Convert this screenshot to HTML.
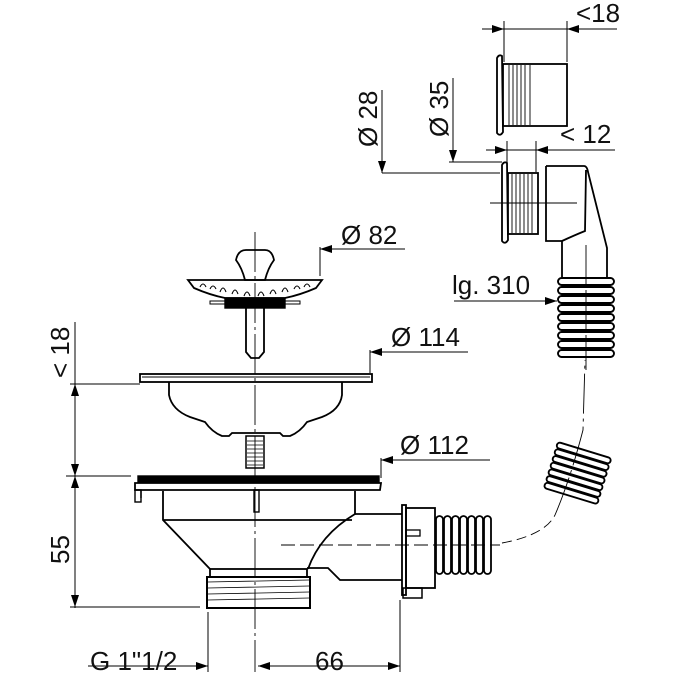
<!DOCTYPE html>
<html><head><meta charset="utf-8"><style>
html,body{margin:0;padding:0;background:#fff}
svg{display:block}
text{font-family:"Liberation Sans",sans-serif;font-size:26px;fill:#111}
</style></head><body>
<svg width="680" height="680" viewBox="0 0 680 680" xmlns="http://www.w3.org/2000/svg">
<defs>
<marker id="a" markerWidth="12" markerHeight="8" refX="12" refY="4" orient="auto" markerUnits="userSpaceOnUse"><path d="M0,0 L12,4 L0,8 Z" fill="#000"/></marker>
</defs>
<g stroke="#000" fill="none" stroke-width="1.4">
<line x1="255" y1="232" x2="255" y2="672" stroke-dasharray="40,4,3,4" stroke-width="0.9"/>
<path d="M236,260 Q238,250 246,250 L265,250 Q272,250 274,260 Q268,268 265,280 L245,280 Q242,268 236,260 Z" stroke-width="1.8"/>
<path d="M188,280 L322,280 L316,288 Q300,295 285,298 L225,298 Q210,295 194,288 Z" stroke-width="1.8"/>
<g stroke-width="1.1">
<path d="M200,287 q3,-6 6,0 M210,289 q3,-6 6,0 M220,292 q3,-8 6,0 M232,294 q3,-8 6,0 M244,296 q3,-8 6,0 M258,296 q3,-8 6,0 M270,294 q3,-8 6,0 M282,292 q3,-8 6,0 M294,289 q3,-6 6,0 M304,287 q3,-6 6,0"/>
</g>
<rect x="210" y="301" width="90" height="3" stroke-width="1"/>
<rect x="225" y="298" width="60" height="10" fill="#000"/>
<path d="M246,308 L246,352 L251,358 L259,358 L264,352 L264,308" stroke-width="1.8"/>
<rect x="140" y="374" width="232" height="8" stroke-width="1.8"/>
<line x1="142" y1="377" x2="370" y2="377" stroke-width="1"/>
<path d="M169,382 L169,395 Q172,410 190,417 L205,422 Q212,432 222,436 L229,436 L232,433 L280,433 L283,436 L290,436 Q300,432 307,422 L322,417 Q340,410 342,395 L342,382" stroke-width="1.8"/>
<rect x="246" y="436" width="18" height="32" stroke-width="1.5"/>
<path d="M247,441h16M247,445h16M247,449h16M247,453h16M247,457h16M247,461h16M247,465h16" stroke-width="0.8"/>
<rect x="138" y="476" width="241" height="6" fill="#000"/>
<path d="M135,483 L381,483 L380,490 L135,490 Z" stroke-width="1.8"/>
<rect x="135" y="490" width="6" height="12" stroke-width="1.4"/>
<line x1="141" y1="490" x2="141" y2="498"/>
<rect x="254" y="490" width="5" height="22" stroke-width="1.4"/>
<path d="M163,491 L163,520 L210,569 M163,520 L352,520 M355,491 L355,514 Q320,535 308,569" stroke-width="1.8"/>
<rect x="210" y="569" width="97" height="8" stroke-width="1.8"/>
<rect x="207" y="577" width="103" height="31" stroke-width="2"/>
<path d="M208,582 L309,580 M208,588 L309,586 M208,594 L309,592 M208,600 L309,598" stroke-width="0.8"/>
<path d="M355,514 L402,514 M307,568 L328,568 L340,580 L402,580" stroke-width="1.8"/>
<rect x="402" y="505" width="4" height="90" stroke-width="1.8"/>
<rect x="406" y="508" width="29" height="80" stroke-width="1.8"/>
<rect x="403" y="588" width="19" height="10" stroke-width="1.5"/>
<rect x="406" y="530" width="14" height="6" stroke-width="1.3"/>
<g stroke-width="1.8">
<rect x="436" y="516" width="7" height="58" rx="3.5"/>
<rect x="444" y="516" width="7" height="58" rx="3.5"/>
<rect x="452" y="516" width="7" height="58" rx="3.5"/>
<rect x="460" y="516" width="7" height="58" rx="3.5"/>
<rect x="468" y="516" width="7" height="58" rx="3.5"/>
<rect x="476" y="516" width="7" height="58" rx="3.5"/>
<rect x="484" y="516" width="7" height="58" rx="3.5"/>
</g>
<line x1="281" y1="545" x2="500" y2="545" stroke-dasharray="14,5" stroke-width="0.9"/>
<path d="M502,543 Q545,535 555,515" stroke-dasharray="10,5" stroke-width="0.9"/>
<path d="M555,515 Q570,480 583,430 L585,360" stroke-dasharray="40,5,3,5" stroke-width="0.9"/>
<g transform="translate(577,475) rotate(17)" stroke-width="1.9">
<rect x="-28" y="-26" width="56" height="6" rx="3"/>
<rect x="-28" y="-19" width="56" height="6" rx="3"/>
<rect x="-28" y="-12" width="56" height="6" rx="3"/>
<rect x="-28" y="-5" width="56" height="6" rx="3"/>
<rect x="-28" y="2" width="56" height="6" rx="3"/>
<rect x="-28" y="9" width="56" height="6" rx="3"/>
<rect x="-28" y="16" width="56" height="6" rx="3"/>
</g>
<path d="M497,58 Q499,54 502,56 L503,132 Q500,137 497,133 Z" stroke-width="1.8"/>
<rect x="503" y="64" width="64" height="62" stroke-width="1.8"/>
<path d="M509,65v60M513,65v60M517,65v60M521,65v60M525,65v60M530,65v60" stroke-width="0.9"/>
<path d="M502,165 Q504,161 507,163 L508,240 Q505,245 502,241 Z" stroke-width="1.8"/>
<rect x="508" y="173" width="30" height="61" stroke-width="1.8"/>
<path d="M512,174v59M516,174v59M520,174v59M524,174v59M528,174v59M532,174v59" stroke-width="0.9"/>
<line x1="490" y1="203" x2="577" y2="203" stroke-width="0.9"/>
<path d="M546,166 L584,166 Q587,166 588,172 L607,248 L607,277 M546,166 L546,241 L562,241 L562,277 M562,241 Q575,235 585,231 L586,170" stroke-width="1.8"/>
<line x1="586" y1="245" x2="586" y2="370" stroke-dasharray="40,5" stroke-width="0.9"/>
<g stroke-width="1.9">
<rect x="558" y="278" width="56" height="7" rx="3.5"/>
<rect x="558" y="287" width="56" height="7" rx="3.5"/>
<rect x="558" y="296" width="56" height="7" rx="3.5"/>
<rect x="558" y="305" width="56" height="7" rx="3.5"/>
<rect x="558" y="314" width="56" height="7" rx="3.5"/>
<rect x="558" y="323" width="56" height="7" rx="3.5"/>
<rect x="558" y="332" width="56" height="7" rx="3.5"/>
<rect x="558" y="341" width="56" height="7" rx="3.5"/>
<rect x="558" y="350" width="56" height="7" rx="3.5"/>
</g>
</g>
<g stroke="#000" stroke-width="1" fill="none">
<line x1="504" y1="21" x2="504" y2="62"/><line x1="567" y1="21" x2="567" y2="62"/>
<line x1="482" y1="29" x2="504" y2="29" marker-end="url(#a)"/>
<line x1="617" y1="29" x2="567" y2="29" marker-end="url(#a)"/>
<line x1="504" y1="29" x2="567" y2="29"/>
<line x1="507" y1="141" x2="507" y2="165"/><line x1="536" y1="141" x2="536" y2="172"/>
<line x1="486" y1="150" x2="507" y2="150" marker-end="url(#a)"/>
<line x1="615" y1="150" x2="536" y2="150" marker-end="url(#a)"/>
<line x1="507" y1="150" x2="536" y2="150"/>
<line x1="382" y1="90" x2="382" y2="173" marker-end="url(#a)"/>
<line x1="382" y1="173" x2="500" y2="173"/>
<line x1="453" y1="78" x2="453" y2="162" marker-end="url(#a)"/>
<line x1="449" y1="162" x2="502" y2="162"/>
<line x1="405" y1="249" x2="320" y2="249" marker-end="url(#a)"/>
<line x1="320" y1="247" x2="320" y2="276"/>
<line x1="454" y1="301" x2="557" y2="301" marker-end="url(#a)"/>
<line x1="468" y1="352" x2="370" y2="352" marker-end="url(#a)"/>
<line x1="370" y1="350" x2="370" y2="373"/>
<line x1="490" y1="460" x2="381" y2="460" marker-end="url(#a)"/>
<line x1="381" y1="458" x2="381" y2="478"/>
<line x1="75" y1="322" x2="75" y2="608"/>
<line x1="70" y1="384" x2="140" y2="384"/>
<line x1="66" y1="476" x2="131" y2="476"/>
<line x1="70" y1="607" x2="200" y2="607"/>
<line x1="75" y1="420" x2="75" y2="384" marker-end="url(#a)"/>
<line x1="75" y1="440" x2="75" y2="476" marker-end="url(#a)"/>
<line x1="75" y1="510" x2="75" y2="476" marker-end="url(#a)"/>
<line x1="75" y1="570" x2="75" y2="607" marker-end="url(#a)"/>
<line x1="208" y1="612" x2="208" y2="672"/>
<line x1="400" y1="600" x2="400" y2="672"/>
<line x1="88" y1="666" x2="208" y2="666" marker-end="url(#a)"/>
<line x1="300" y1="666" x2="258" y2="666" marker-end="url(#a)"/>
<line x1="360" y1="666" x2="400" y2="666" marker-end="url(#a)"/>
<line x1="300" y1="666" x2="360" y2="666"/>
</g>
<text x="576" y="22">&lt;18</text>
<text x="560" y="143">&lt; 12</text>
<text transform="translate(377,147) rotate(-90)">Ø 28</text>
<text transform="translate(448,137) rotate(-90)">Ø 35</text>
<text x="341" y="244">Ø 82</text>
<text x="452" y="294">lg. 310</text>
<text x="391" y="346">Ø 114</text>
<text x="400" y="454">Ø 112</text>
<text transform="translate(69,378) rotate(-90)">&lt; 18</text>
<text transform="translate(69,564) rotate(-90)">55</text>
<text x="90" y="670">G 1"1/2</text>
<text x="315" y="670">66</text>
</svg>
</body></html>
